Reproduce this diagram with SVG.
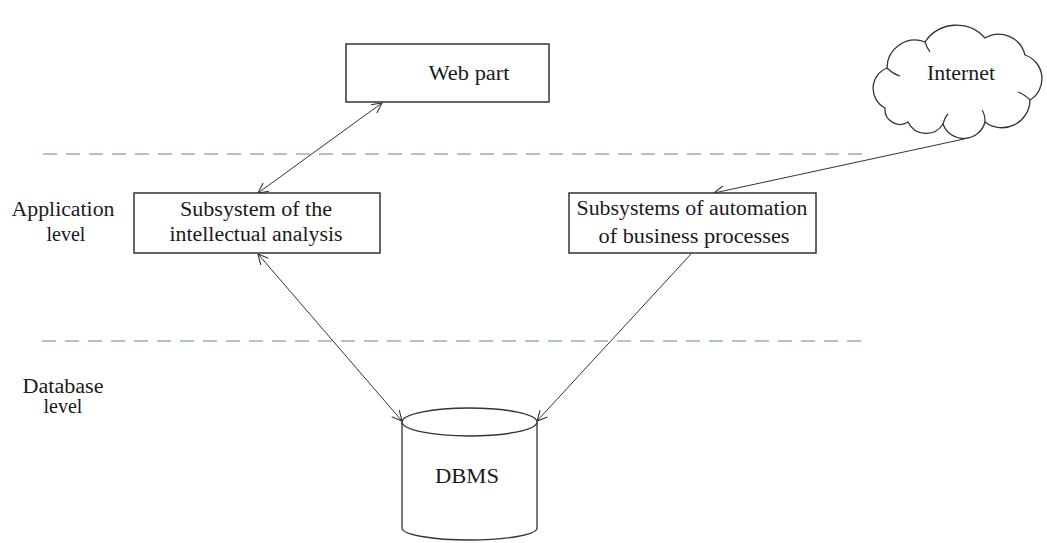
<svg xmlns="http://www.w3.org/2000/svg" width="1047" height="543" viewBox="0 0 1047 543">
<style>
  .t { font-family: "Liberation Serif", "Times New Roman", serif; font-size: 20px; fill: #1a1a1a; text-anchor: middle; }
  .box { fill: #ffffff; stroke: #333333; stroke-width: 1.5; }
  .dash { stroke: #8eaec4; stroke-width: 1.6; stroke-dasharray: 14 9; fill: none; }
  .conn { stroke: #333333; stroke-width: 1; fill: none; }
  .cl { fill: none; stroke: #333333; stroke-width: 1.2; }
</style>
<defs>
  <marker id="arr" viewBox="0 0 12 12" refX="11" refY="6" markerWidth="12" markerHeight="12" markerUnits="userSpaceOnUse" orient="auto-start-reverse">
    <path d="M1,1 L11,6 L1,11" fill="none" stroke="#333333" stroke-width="1.1"/>
  </marker>
</defs>
<rect width="1047" height="543" fill="#ffffff"/>

<g id="levels">
  <line class="dash" x1="43" y1="154" x2="870" y2="154"/>
  <line class="dash" x1="42" y1="341" x2="862" y2="341"/>
  <text class="t" x="63" y="216" textLength="103" lengthAdjust="spacingAndGlyphs">Application</text>
  <text class="t" x="66" y="241">level</text>
  <text class="t" x="63" y="393" textLength="81" lengthAdjust="spacingAndGlyphs">Database</text>
  <text class="t" x="63" y="413">level</text>
</g>

<g id="connectors">
  <line class="conn" x1="382" y1="103" x2="258" y2="193" marker-start="url(#arr)" marker-end="url(#arr)"/>
  <line class="conn" x1="258" y1="254" x2="402" y2="421" marker-start="url(#arr)" marker-end="url(#arr)"/>
  <line class="conn" x1="964" y1="139" x2="714" y2="193" marker-end="url(#arr)"/>
  <line class="conn" x1="691" y1="254" x2="537" y2="421" marker-end="url(#arr)"/>
</g>

<g id="web-part">
  <rect class="box" x="346" y="44" width="203" height="58"/>
  <text class="t" x="469" y="80" textLength="81" lengthAdjust="spacingAndGlyphs">Web part</text>
</g>

<g id="internet">
  <path d="M885,108 A22,22 0 0 1 887,68 A28,28 0 0 1 925,42 A38,38 0 0 1 985,38 A27,27 0 0 1 1025,55 A25,25 0 0 1 1030,100 A28,28 0 0 1 985,122 A22,22 0 0 1 943,124 A20,20 0 0 1 908,122 A15,15 0 0 1 885,108 Z" fill="#ffffff" stroke="#333333" stroke-width="1.3"/>
  <path class="cl" d="M887,68 Q893,74 900,76"/>
  <path class="cl" d="M925,42 Q927,48 930,52"/>
  <path class="cl" d="M1030,100 Q1024,94 1018,92"/>
  <path class="cl" d="M985,122 Q985,114 982,110"/>
  <path class="cl" d="M943,124 Q945,117 948,114"/>
  <text class="t" x="961" y="80" textLength="68" lengthAdjust="spacingAndGlyphs">Internet</text>
</g>

<g id="intellectual-analysis">
  <rect class="box" x="134" y="193" width="246" height="60"/>
  <text class="t" x="256" y="216" textLength="152" lengthAdjust="spacingAndGlyphs">Subsystem of the</text>
  <text class="t" x="256" y="241" textLength="173" lengthAdjust="spacingAndGlyphs">intellectual analysis</text>
</g>

<g id="business-automation">
  <rect class="box" x="569" y="193" width="247" height="60"/>
  <text class="t" x="692" y="215" textLength="231" lengthAdjust="spacingAndGlyphs">Subsystems of automation</text>
  <text class="t" x="694" y="243" textLength="191" lengthAdjust="spacingAndGlyphs">of business processes</text>
</g>

<g id="dbms">
  <path d="M402,422 L402,528 A67.5,12 0 0 0 537,528 L537,422" fill="#ffffff" stroke="#333333" stroke-width="1.3"/>
  <ellipse cx="469.5" cy="422" rx="67.5" ry="14" fill="#ffffff" stroke="#333333" stroke-width="1.3"/>
  <text class="t" x="467" y="483" textLength="64" lengthAdjust="spacingAndGlyphs">DBMS</text>
</g>
</svg>
